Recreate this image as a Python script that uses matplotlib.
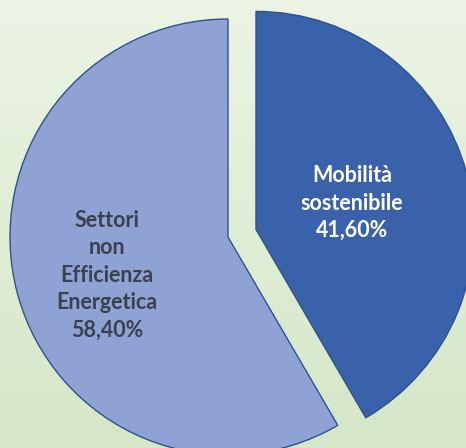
import matplotlib
matplotlib.use("Agg")
import matplotlib.pyplot as plt
import numpy as np
from matplotlib.colors import LinearSegmentedColormap

labels = ["Mobilità\nsostenibile", "Settori\nnon\nEfficienza\nEnergetica"]
values = [41.60, 58.40]
colors = ["#3A62AA", "#8EA3D4"]
text_colors = ["white", "#3A4150"]

W, H = 466, 448
fig = plt.figure(figsize=(W / 100, H / 100), dpi=100)

# background gradient
bg = fig.add_axes([0, 0, 1, 1])
grad = np.linspace(0, 1, 256).reshape(-1, 1)
cmap = LinearSegmentedColormap.from_list("bg", ["#ECF4E5", "#D5E7C7"])
bg.imshow(grad, aspect="auto", cmap=cmap, extent=[0, 1, 0, 1], origin="upper")
bg.axis("off")

ax = fig.add_axes([0, 0, 1, 1])
ax.patch.set_alpha(0)
scale = 218.0
cx, cy = 228.0, 237.0

wedges, _ = ax.pie(values, colors=colors, startangle=90, counterclock=False,
                   explode=[0.133, 0], radius=1.0, center=(0, 0),
                   wedgeprops=dict(edgecolor="#2F528F", linewidth=1.0),
                   frame=True)
ax.set_xlim(-cx / scale, (W - cx) / scale)
ax.set_ylim(-(H - cy) / scale, cy / scale)
ax.axis("off")

pcts = [f"{v:.2f}".replace(".", ",") + "%" for v in values]
label_pos = [(352, 203), (107, 275)]
for lab, pct, (px, py), tc in zip(labels, pcts, label_pos, text_colors):
    x = (px - cx) / scale
    y = (cy - py) / scale
    ax.text(x, y, lab + "\n" + pct, ha="center", va="center", color=tc,
            fontsize=15.5, fontweight="bold", family=["Lato", "DejaVu Sans"],
            linespacing=1.38)

fig.savefig("out.png", dpi=100)
